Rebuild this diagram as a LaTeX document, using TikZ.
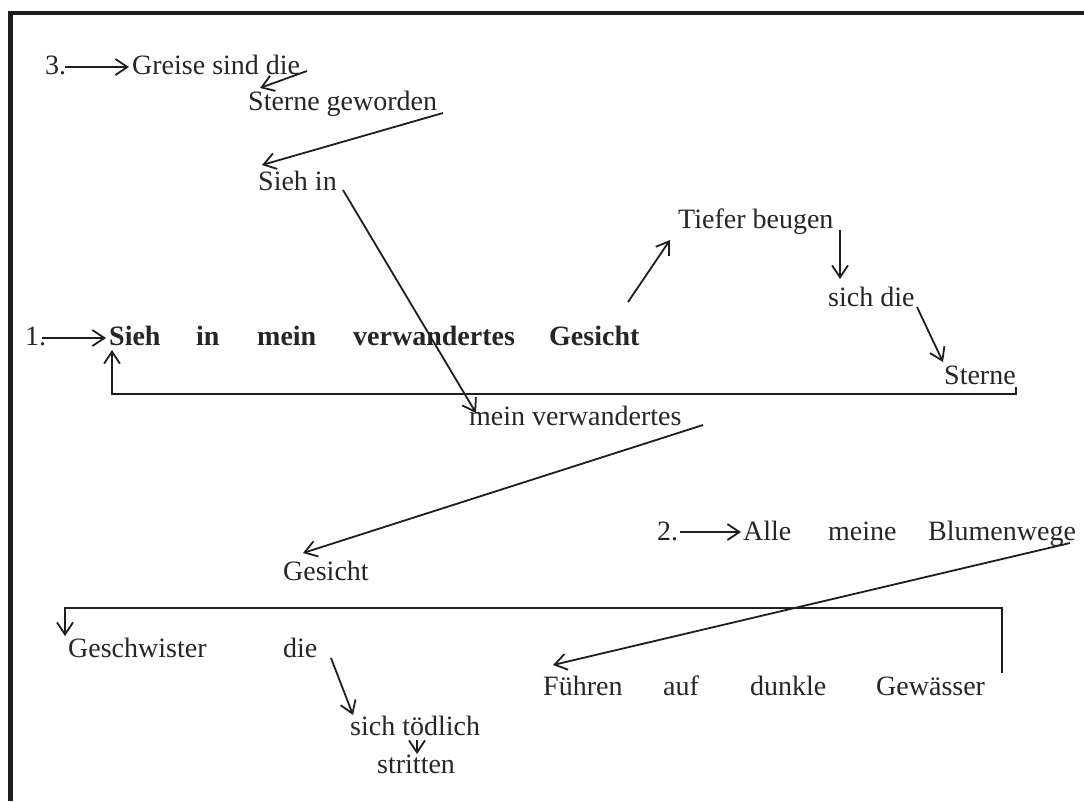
\documentclass[tikz,border=0pt]{standalone}
\usepackage{fontspec}
\setmainfont{Liberation Serif}
\usetikzlibrary{arrows.meta,calc}
\definecolor{ink}{HTML}{1E1E1E}
\definecolor{txt}{HTML}{262626}
\begin{document}
\begin{tikzpicture}[x=1pt,y=-1pt,
  word/.style={inner sep=0pt,anchor=base west,text=txt,font=\fontsize{28}{32}\selectfont},
  bword/.style={word,font=\fontsize{28}{32}\selectfont\bfseries},
  conn/.style={draw=ink,line width=1.8pt,-{Straight Barb[length=12pt,width=16pt,line width=1.8pt]}},
  frame/.style={draw=ink,line width=4.5pt}]
\useasboundingbox (0,0) rectangle (1084,801);
\fill[white] (0,0) rectangle (1084,801);
\draw[frame] (10.5,801) -- (10.5,13) -- (1084,13);
% line 3
\node[word] (n3) at (45,74) {3.};
\node[word] (greise) at (132,74) {Greise sind die};
\node[word] (sterneg) at (248,110) {Sterne geworden};
\node[word] (siehin) at (258,190) {Sieh in};
% upper right
\node[word] (tiefer) at (678,228) {Tiefer beugen};
\node[word] (sichdie) at (828,306) {sich die};
% line 1
\node[word] (n1) at (25,345) {1.};
\node[bword] (w1) at (109,345) {Sieh};
\node[bword] (w2) at (196,345) {in};
\node[bword] (w3) at (257,345) {mein};
\node[bword] (w4) at (353,345) {verwandertes};
\node[bword] (w5) at (549,345) {Gesicht};
\node[word] (sterne) at (944,384) {Sterne};
\node[word] (meinv) at (469,425) {mein verwandertes};
% line 2
\node[word] (n2) at (657,540) {2.};
\node[word] (alle) at (743,540) {Alle};
\node[word] (meine) at (828,540) {meine};
\node[word] (blumen) at (928,540) {Blumenwege};
\node[word] (gesicht) at (283,580) {Gesicht};
\node[word] (geschw) at (68,657) {Geschwister};
\node[word] (die) at (283,657) {die};
\node[word] (fuehren) at (543,695) {Führen};
\node[word] (auf) at (663,695) {auf};
\node[word] (dunkle) at (750,695) {dunkle};
\node[word] (gewaesser) at (876,695) {Gewässer};
\node[word] (toedlich) at (350,735) {sich tödlich};
\node[word] (stritten) at (377,773) {stritten};
% connectors
\draw[conn] ($(n3.base west)+(20,-7)$) -- ($(greise.base west)+(-3,-7)$);
\draw[conn] ($(greise.base west)+(175,-3)$) -- ($(sterneg.base west)+(12,-22)$);
\draw[conn] ($(sterneg.base west)+(195,3)$) -- ($(siehin.base west)+(4,-25)$);
\draw[conn] ($(siehin.base west)+(85,0)$) -- ($(meinv.base west)+(7,-12)$);
\draw[conn] ($(w5.base west)+(79,-43)$) -- ($(tiefer.base west)+(-8,12)$);
\draw[conn] ($(tiefer.base west)+(162,2)$) -- ($(sichdie.base west)+(12,-27)$);
\draw[conn] ($(sichdie.base west)+(89,1)$) -- ($(sterne.base west)+(-1,-22)$);
\draw[conn] ($(sterne.base west)+(72,3)$) -- ($(sterne.base west)+(72,10)$) -- ($(w1.base west)+(3,49)$) -- ($(w1.base west)+(3,5)$);
\draw[conn] ($(n1.base west)+(17,-7)$) -- ($(w1.base west)+(-3,-7)$);
\draw[conn] ($(meinv.base west)+(234,0)$) -- ($(gesicht.base west)+(20,-27)$);
\draw[conn] ($(n2.base west)+(23,-8)$) -- ($(alle.base west)+(-2,-8)$);
\draw[conn] ($(blumen.base west)+(142,3)$) -- ($(fuehren.base west)+(10,-30)$);
\draw[conn] ($(gewaesser.base west)+(126,-22)$) -- ($(gewaesser.base west)+(126,-87)$) -- ($(geschw.base west)+(-3,-49)$) -- ($(geschw.base west)+(-3,-21)$);
\draw[conn] ($(die.base west)+(48,1)$) -- ($(toedlich.base west)+(3,-20)$);
\draw[conn] ($(toedlich.base west)+(67,5)$) -- ($(stritten.base west)+(40,-19)$);
\end{tikzpicture}
\end{document}
